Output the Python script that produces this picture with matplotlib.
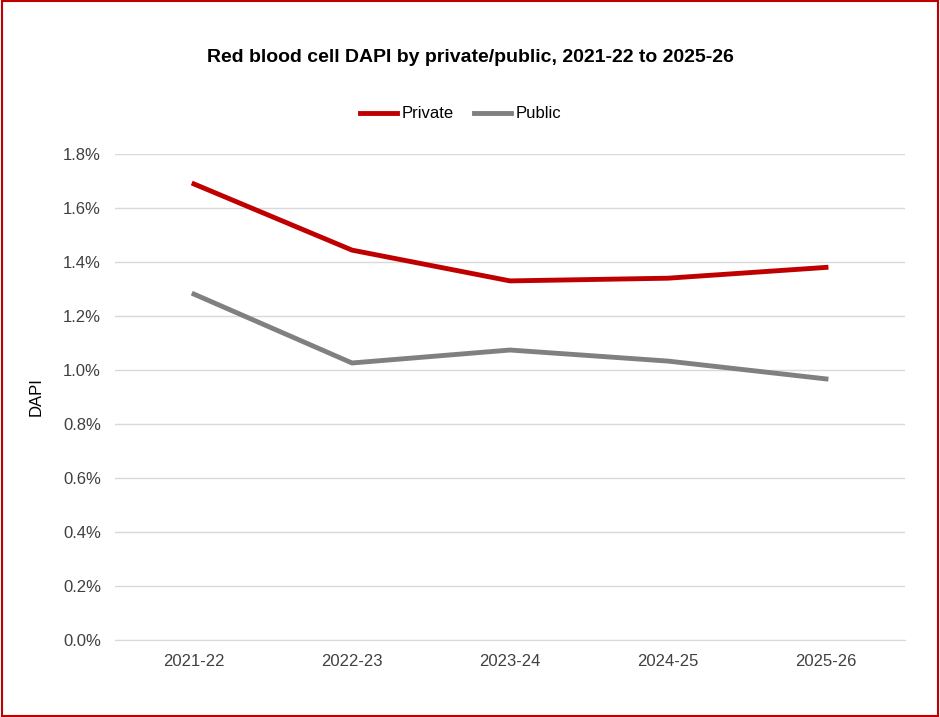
import matplotlib
matplotlib.use("Agg")
import matplotlib.pyplot as plt
from matplotlib.patches import Rectangle
from matplotlib.ticker import FuncFormatter

years = ["2021-22", "2022-23", "2023-24", "2024-25", "2025-26"]
private = [1.689, 1.444, 1.330, 1.340, 1.380]
public = [1.281, 1.026, 1.074, 1.033, 0.967]

plt.rcParams['font.family'] = ['Liberation Sans', 'DejaVu Sans']

fig = plt.figure(figsize=(9.4, 7.17), dpi=100)
ax = fig.add_axes([115/940, 1-640/717, 790/940, 486/717])

x = range(len(years))
ax.plot(x, private, color='#C00000', linewidth=3.5, label='Private')
ax.plot(x, public, color='#808080', linewidth=3.5, label='Public')

ax.set_xlim(-0.5, 4.5)
ax.set_ylim(0, 1.8)
ax.set_yticks([i*0.2 for i in range(10)])
ax.yaxis.set_major_formatter(FuncFormatter(lambda v, p: f"{v:.1f}%"))
ax.set_xticks(list(x))
ax.set_xticklabels(years)
ax.grid(axis='y', color='#D9D9D9', linewidth=1)
ax.set_axisbelow(True)
for s in ['top', 'right', 'left']:
    ax.spines[s].set_visible(False)
ax.spines['bottom'].set_color('#D9D9D9')
ax.tick_params(length=0, labelsize=12, colors='#404040', pad=10)
ax.set_ylabel("DAPI", fontsize=12, color='black', labelpad=14)

fig.text(0.5, 1-57/717, "Red blood cell DAPI by private/public, 2021-22 to 2025-26",
         ha='center', va='center', fontsize=14, fontweight='bold')
fig.legend(loc='center', bbox_to_anchor=(0.49, 1-114/717), ncol=2, frameon=False,
           fontsize=12, handlelength=2.2, columnspacing=1.2, handletextpad=0.3)

fig.patches.append(Rectangle((0.002, 0.002), 0.996, 0.996, transform=fig.transFigure,
                             fill=False, edgecolor='#C00000', linewidth=1.5))

fig.savefig("out.png", dpi=100)
